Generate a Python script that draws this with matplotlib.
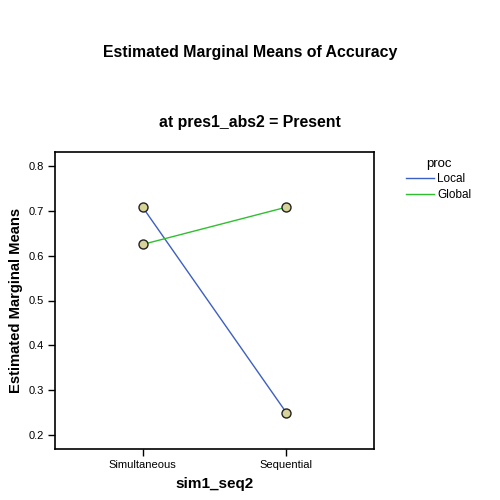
import matplotlib
matplotlib.use("Agg")
import matplotlib.pyplot as plt

categories = ["Simultaneous", "Sequential"]
local_vals = [0.708, 0.250]
global_vals = [0.625, 0.708]
yticks = [0.2, 0.3, 0.4, 0.5, 0.6, 0.7, 0.8]

plt.rcParams['font.family'] = ['Liberation Sans', 'DejaVu Sans']

fig = plt.figure(figsize=(5, 5), dpi=100)
W, H = 500, 500
ax = fig.add_axes([55 / W, 1 - 449 / H, (374 - 55) / W, (449 - 152) / H])

x = list(range(len(categories)))
mk = dict(marker='o', markersize=6.5, markerfacecolor='#d8d39a', markeredgecolor='#222222', markeredgewidth=1.0)
l1, = ax.plot(x, local_vals, color='#3c5fc4', lw=1.0, **mk)
l2, = ax.plot(x, global_vals, color='#2fbf2f', lw=1.0, **mk)

ax.set_xlim(-0.61, 1.61)
ax.set_ylim(0.169, 0.831)
ax.set_xticks(x)
ax.set_xticklabels(categories, fontsize=8)
ax.set_yticks(yticks)
ax.set_yticklabels([f"{v:.1f}" for v in yticks], fontsize=8)
ax.tick_params(direction='out', length=5, width=1, pad=3)
for s in ax.spines.values():
    s.set_linewidth(1.2)

ax.set_xlabel("sim1_seq2", fontsize=11, fontweight='bold', labelpad=5)
ax.set_ylabel("Estimated Marginal Means", fontsize=10.6, fontweight='bold', labelpad=4)

fig.text(0.5, 1 - 53 / H, "Estimated Marginal Means of Accuracy", ha='center', va='center',
         fontsize=11.4, fontweight='bold')
fig.text(0.5, 1 - 123 / H, "at pres1_abs2 = Present", ha='center', va='center',
         fontsize=11.4, fontweight='bold')

h1 = plt.Line2D([], [], color='#3c5fc4', lw=1.0)
h2 = plt.Line2D([], [], color='#2fbf2f', lw=1.0)
leg = fig.legend([h1, h2], ["Local", "Global"], title="proc", loc='upper left',
                 bbox_to_anchor=(400 / W, 1 - 152 / H), frameon=False, fontsize=8.5,
                 title_fontsize=9.5, handlelength=2.4, handletextpad=0.25, labelspacing=0.3,
                 borderpad=0)

fig.savefig("out.png", dpi=100, facecolor='white')
